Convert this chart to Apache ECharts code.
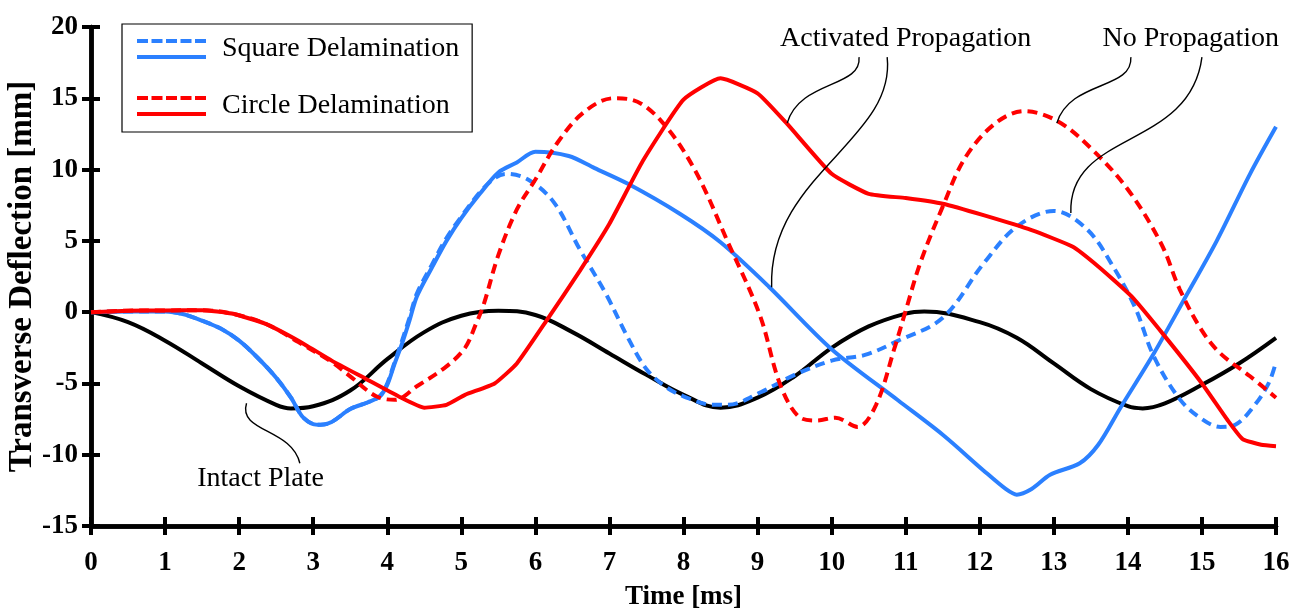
<!DOCTYPE html>
<html>
<head>
<meta charset="utf-8">
<script src="https://cdn.jsdelivr.net/npm/echarts@6/dist/echarts.min.js"></script>
<style>
  html, body { margin: 0; padding: 0; background: #fff; }
  #chart { width: 1291px; height: 612px; }
</style>
</head>
<body>
<div id="chart"></div>
<script>
// ---- Data (time in ms, deflection in mm) ----
const xTicks = [0, 1, 2, 3, 4, 5, 6, 7, 8, 9, 10, 11, 12, 13, 14, 15, 16];
const yTicks = [-15, -10, -5, 0, 5, 10, 15, 20];

const intactPlate = [[0,0],[0.5,-0.7],[1,-2.0],[1.5,-3.6],[2,-5.2],[2.5,-6.5],[2.7,-6.75],[3,-6.6],[3.5,-5.5],[4,-3.3],[4.5,-1.4],[5,-0.25],[5.5,0.1],[6,-0.2],[6.5,-1.4],[7,-2.9],[7.5,-4.4],[8,-5.8],[8.5,-6.7],[9,-6.0],[9.5,-4.5],[10,-2.5],[10.5,-1.0],[11,-0.1],[11.25,0.05],[12,-0.7],[12.5,-1.8],[13,-3.6],[13.5,-5.4],[14,-6.6],[14.2,-6.75],[14.5,-6.4],[15,-5.1],[15.5,-3.6],[16,-1.8]];

const squareActivated = [[0,0],[0.5,0.05],[1,0.05],[1.25,-0.15],[1.5,-0.6],[1.75,-1.15],[2,-2.0],[2.25,-3.2],[2.5,-4.6],[2.7,-6.0],[2.85,-7.3],[3.0,-7.85],[3.1,-7.9],[3.25,-7.7],[3.5,-6.8],[3.75,-6.3],[3.9,-5.9],[4.0,-5.1],[4.1,-3.6],[4.2,-2.2],[4.3,-0.6],[4.4,1.1],[4.6,3.1],[4.8,5.0],[5.0,6.6],[5.25,8.3],[5.5,9.8],[5.75,10.5],[6.0,11.25],[6.45,10.95],[6.8,10.1],[7.25,9.0],[7.95,6.9],[8.5,4.9],[9.15,1.8],[10.0,-2.6],[10.9,-6.2],[11.5,-8.6],[12.05,-11.1],[12.35,-12.4],[12.5,-12.8],[12.7,-12.4],[12.95,-11.4],[13.35,-10.6],[13.6,-9.3],[13.9,-6.7],[14.35,-2.9],[14.75,0.8],[15.2,5.0],[15.65,9.7],[16,13.0]];

const squareNoProp = [[0,0],[0.5,0.05],[1,0.05],[1.25,-0.15],[1.5,-0.6],[1.75,-1.15],[2,-2.0],[2.25,-3.2],[2.5,-4.6],[2.7,-6.0],[2.85,-7.3],[3.0,-7.85],[3.1,-7.9],[3.25,-7.7],[3.5,-6.8],[3.75,-6.3],[3.9,-5.9],[4.0,-5.0],[4.1,-3.5],[4.2,-2.0],[4.3,-0.4],[4.4,1.3],[4.6,3.3],[4.8,5.2],[5.0,6.7],[5.25,8.4],[5.45,9.4],[5.6,9.7],[5.9,9.3],[6.25,7.7],[6.6,4.4],[6.95,1.3],[7.25,-1.8],[7.5,-4.0],[7.75,-5.2],[8.0,-5.9],[8.4,-6.5],[8.6,-6.5],[9.05,-5.6],[9.5,-4.4],[10.0,-3.4],[10.45,-3.0],[10.9,-2.0],[11.5,-0.4],[12.05,3.4],[12.5,6.0],[13.0,7.1],[13.45,5.8],[13.8,3.2],[14.1,0.3],[14.35,-3.1],[14.7,-6.1],[15.0,-7.5],[15.25,-8.05],[15.45,-7.9],[15.7,-6.6],[15.9,-5.0],[16,-3.5]];

const circleActivated = [[0,0],[0.5,0.1],[1,0.12],[1.5,0.14],[1.9,-0.1],[2.35,-0.8],[2.8,-2.0],[3.25,-3.4],[3.7,-4.65],[4.15,-5.9],[4.5,-6.7],[4.8,-6.5],[5.05,-5.8],[5.45,-5.0],[5.75,-3.6],[6.15,-0.6],[6.6,2.9],[7.0,6.2],[7.45,10.6],[8.0,14.9],[8.5,16.4],[9.0,15.35],[9.4,13.2],[10.0,9.7],[10.5,8.3],[11.0,8.0],[11.5,7.6],[12.05,6.8],[12.7,5.75],[13.25,4.6],[13.6,3.2],[14.05,1.1],[14.5,-1.7],[15.0,-5.0],[15.35,-7.6],[15.55,-8.9],[15.8,-9.3],[16,-9.4]];

const circleNoProp = [[0,0],[0.5,0.1],[1,0.12],[1.5,0.14],[1.9,-0.1],[2.35,-0.8],[2.8,-2.1],[3.25,-3.5],[3.5,-4.5],[3.85,-5.9],[4.1,-6.15],[4.4,-5.2],[4.8,-3.8],[5.05,-2.5],[5.2,-0.8],[5.3,0.5],[5.5,4.0],[5.75,7.2],[6.0,9.3],[6.3,11.9],[6.65,14.0],[7.05,15.0],[7.3,14.9],[7.7,13.4],[8.15,10.0],[8.6,4.9],[9.03,-0.2],[9.3,-5.0],[9.55,-7.3],[9.8,-7.6],[10.05,-7.4],[10.35,-8.05],[10.6,-6.5],[10.85,-2.5],[11.0,0.1],[11.2,3.5],[11.5,7.4],[11.8,10.8],[12.2,13.2],[12.6,14.1],[13.05,13.4],[13.5,11.5],[14.0,8.6],[14.45,4.8],[14.7,1.6],[15.0,-1.3],[15.25,-2.9],[15.65,-4.5],[16,-6.0]];

const legendNames = ['Square Delamination', 'Circle Delamination'];

// Annotations: text anchor (data coords) and leader curves (data coords: start, cp1, cp2, end)
const annotationTexts = [
  { text: 'Activated Propagation', at: [11.0, 19.19] },
  { text: 'No Propagation', at: [14.85, 19.19] },
  { text: 'Intact Plate', at: [2.29, -11.68] }
];
const leaderCurves = [
  [[10.37, 17.89], [10.41, 15.72], [9.57, 16.28], [9.40, 13.26]],
  [[10.75, 17.89], [10.87, 12.07], [9.14, 9.61], [9.19, 1.75]],
  [[14.04, 17.89], [14.07, 15.58], [13.22, 16.28], [13.04, 13.26]],
  [[15.0, 17.89], [14.84, 11.37], [13.19, 12.77], [13.23, 6.95]],
  [[2.10, -6.39], [1.98, -8.42], [2.71, -8.14], [2.82, -10.6]]
];

// ---- Styles ----
const FONT = '"Liberation Serif", "Times New Roman", serif';
const BLUE = '#2B80FF';
const RED = '#FF0000';
const DASH = [10, 6];
const legendIcon = 'path://M0,0h11v4h-11z M14.5,0h11v4h-11z M29,0h11v4h-11z M43.5,0h11v4h-11z M58,0h11v4h-11z M0,16h69v4h-69z';

const chart = echarts.init(document.getElementById('chart'), null, { renderer: 'canvas' });

const axisLabelStyle = { fontFamily: FONT, fontWeight: 'bold', fontSize: 27, color: '#000' };
const baseX = {
  type: 'value', min: 0, max: 16, interval: 1,
  axisLine: { onZero: false, lineStyle: { color: '#000', width: 4.5 } },
  splitLine: { show: false }
};
const baseY = {
  type: 'value', min: -15, max: 20, interval: 5,
  axisLine: { lineStyle: { color: '#000', width: 4.5 } },
  splitLine: { show: false }
};

function lineSeries(name, data, color, dashed, smooth, z) {
  return {
    name: name, type: 'line', data: data, showSymbol: false, symbol: 'none',
    smooth: smooth, z: z || 2,
    lineStyle: { color: color, width: 4, type: dashed ? DASH : 'solid', cap: 'butt' },
    itemStyle: { color: color },
    emphasis: { disabled: true }
  };
}

chart.setOption({
  animation: false,
  backgroundColor: '#fff',
  grid: { left: 91, right: 15, top: 27, bottom: 86, containLabel: false, outerBoundsMode: 'none' },
  legend: {
    data: legendNames,
    orient: 'vertical',
    left: 122, top: 24,
    padding: [11, 13, 12, 15],
    itemGap: 29,
    itemWidth: 69, itemHeight: 20,
    icon: legendIcon,
    itemStyle: { borderWidth: 0 },
    borderColor: '#000', borderWidth: 1.2,
    backgroundColor: '#fff',
    textStyle: { fontFamily: FONT, fontSize: 28, color: '#000', padding: [0, 0, 0, 11] },
    selectedMode: false
  },
  xAxis: [
    Object.assign({}, baseX, {
      name: 'Time [ms]', nameLocation: 'middle', nameGap: 58, nameMoveOverlap: false,
      nameTextStyle: { fontFamily: FONT, fontWeight: 'bold', fontSize: 27, color: '#000' },
      axisTick: { show: true, inside: false, length: 9, lineStyle: { color: '#000', width: 4 } },
      axisLabel: Object.assign({ margin: 24, formatter: v => xTicks.indexOf(v) >= 0 ? String(v) : '' }, axisLabelStyle)
    }),
    Object.assign({}, baseX, {
      position: 'bottom',
      axisTick: { show: true, inside: true, length: 9, lineStyle: { color: '#000', width: 4 } },
      axisLabel: { show: false }
    })
  ],
  yAxis: [
    Object.assign({}, baseY, {
      name: 'Transverse Deflection [mm]', nameLocation: 'middle', nameGap: 52, nameMoveOverlap: false,
      nameTextStyle: { fontFamily: FONT, fontWeight: 'bold', fontSize: 33, color: '#000' },
      axisTick: { show: true, inside: false, length: 9, lineStyle: { color: '#000', width: 4 } },
      axisLabel: Object.assign({ margin: 13, formatter: v => yTicks.indexOf(v) >= 0 ? String(v) : '' }, axisLabelStyle)
    }),
    Object.assign({}, baseY, {
      position: 'left',
      axisTick: { show: true, inside: true, length: 9, lineStyle: { color: '#000', width: 4 } },
      axisLabel: { show: false }
    })
  ],
  series: [
    lineSeries('Intact Plate', intactPlate, '#000', false, 0.4, 2),
    lineSeries(legendNames[0], squareNoProp, BLUE, true, 0.35, 3),
    lineSeries(legendNames[0], squareActivated, BLUE, false, 0.3, 3),
    lineSeries(legendNames[1], circleNoProp, RED, true, 0.35, 4),
    lineSeries(legendNames[1], circleActivated, RED, false, 0.15, 4)
  ]
});

// Annotations positioned through the chart's own coordinate system
function px(p) { return chart.convertToPixel({ gridIndex: 0 }, p); }
const graphics = [];
leaderCurves.forEach(c => {
  const a = px(c[0]), b = px(c[1]), d = px(c[2]), e = px(c[3]);
  graphics.push({
    type: 'bezierCurve', z: 10,
    shape: { x1: a[0], y1: a[1], cpx1: b[0], cpy1: b[1], cpx2: d[0], cpy2: d[1], x2: e[0], y2: e[1] },
    style: { stroke: '#000', lineWidth: 1.4, fill: null }
  });
});
annotationTexts.forEach(t => {
  const p = px(t.at);
  graphics.push({
    type: 'text', z: 10, x: p[0], y: p[1],
    style: { text: t.text, font: '28px ' + FONT, fill: '#000', align: 'center', verticalAlign: 'middle' }
  });
});
chart.setOption({ graphic: graphics });
</script>
</body>
</html>
